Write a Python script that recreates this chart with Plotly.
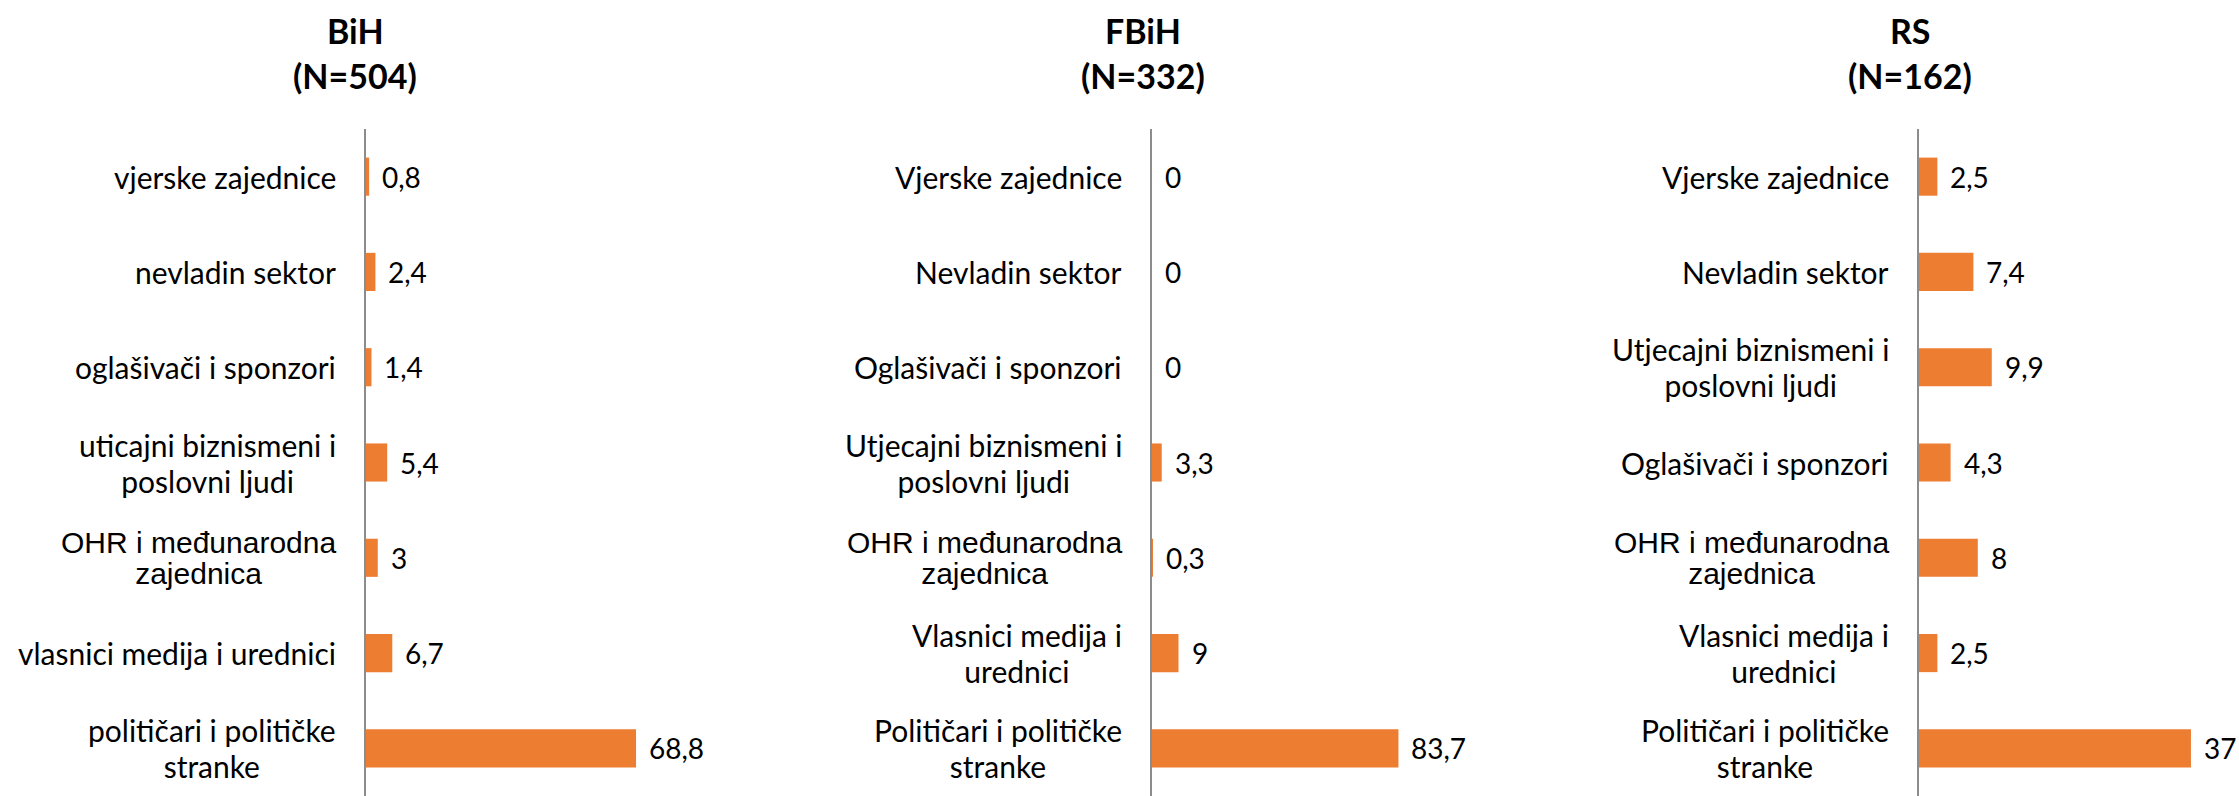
import plotly.graph_objects as go

# categories per panel, top to bottom
cats_bih = ['vjerske zajednice', 'nevladin sektor', 'oglašivači i sponzori',
            'uticajni biznismeni i<br>poslovni ljudi', 'OHR i međunarodna<br>zajednica',
            'vlasnici medija i urednici', 'političari i političke<br>stranke']
vals_bih = [0.8, 2.4, 1.4, 5.4, 3, 6.7, 68.8]

cats_fbih = ['Vjerske zajednice', 'Nevladin sektor', 'Oglašivači i sponzori',
             'Utjecajni biznismeni i<br>poslovni ljudi', 'OHR i međunarodna<br>zajednica',
             'Vlasnici medija i<br>urednici', 'Političari i političke<br>stranke']
vals_fbih = [0, 0, 0, 3.3, 0.3, 9, 83.7]

cats_rs = ['Vjerske zajednice', 'Nevladin sektor', 'Utjecajni biznismeni i<br>poslovni ljudi',
           'Oglašivači i sponzori', 'OHR i međunarodna<br>zajednica',
           'Vlasnici medija i<br>urednici', 'Političari i političke<br>stranke']
vals_rs = [2.5, 7.4, 9.9, 4.3, 8, 2.5, 37]

titles = ['BiH', 'FBiH', 'RS']
ns = ['(N=504)', '(N=332)', '(N=162)']
x_max = [80, 90, 40]

W, H = 2239, 796
ORANGE = '#ED7D31'
AXIS = '#8C8C8C'
FONT = 'Lato'

# pixel layout of each panel: axis x position and right edge
panels_px = [(366, 680), (1152, 1417), (1919, 2213)]
title_cx = [355, 1143, 1910]
plot_top = 129

fig = go.Figure()
data = [(cats_bih, vals_bih), (cats_fbih, vals_fbih), (cats_rs, vals_rs)]

for i, (cats, vals) in enumerate(data):
    n = '' if i == 0 else str(i + 1)
    fig.add_trace(go.Bar(
        x=vals, y=cats, orientation='h',
        marker=dict(color=ORANGE, line=dict(width=0)),
        xaxis='x' + n, yaxis='y' + n,
        showlegend=False, hoverinfo='x+y',
    ))
    x0, x1 = panels_px[i]
    fig.update_layout(**{
        'xaxis' + n: dict(domain=[x0 / W, x1 / W], range=[0, x_max[i]], visible=False,
                          anchor='y' + n, fixedrange=True),
        'yaxis' + n: dict(domain=[0, 1 - plot_top / H], anchor='x' + n,
                          categoryorder='array', categoryarray=cats, autorange='reversed',
                          showticklabels=False, showgrid=False, zeroline=False,
                          showline=True, linecolor=AXIS, linewidth=2, ticks=''),
    })
    # category labels (centre-aligned lines, like the original)
    for c in cats:
        if c.startswith('OHR'):
            # this one is in Arial in the original, with tight line spacing
            span = '<span style="font-size:30px">'
            txt = span + c.replace('<br>', '</span><br>' + span) + '</span>'
            font = dict(family='Liberation Sans', size=24, color='#000000')
        else:
            span = '<span style="font-size:30px">'
            txt = span + c.replace('<br>', '</span><br>' + span) + '</span>'
            font = dict(family=FONT, size=28, color='#000000')
        fig.add_annotation(
            x=0, y=c, xref='x' + n + ' domain', yref='y' + n,
            text=txt, showarrow=False, xanchor='right', align='center',
            yanchor='middle', xshift=-28, font=font,
        )
    # value labels
    for c, v in zip(cats, vals):
        fig.add_annotation(
            x=v, y=c, xref='x' + n, yref='y' + n,
            text=f'{v:g}'.replace('.', ','), showarrow=False,
            xanchor='left', yanchor='middle', xshift=11,
            font=dict(family=FONT, size=28, color='#000000'),
        )
    # panel title
    fig.add_annotation(x=title_cx[i] / W, y=1 - 31 / H, xref='paper', yref='paper',
                       text='<b>' + titles[i] + '</b>', showarrow=False,
                       xanchor='center', yanchor='middle',
                       font=dict(family=FONT, size=34, color='#000000'))
    fig.add_annotation(x=title_cx[i] / W, y=1 - 75 / H, xref='paper', yref='paper',
                       text='<b>' + ns[i] + '</b>', showarrow=False,
                       xanchor='center', yanchor='middle',
                       font=dict(family=FONT, size=34, color='#000000'))

fig.update_layout(
    width=W, height=H,
    margin=dict(l=0, r=0, t=0, b=0),
    plot_bgcolor='white', paper_bgcolor='white',
    bargap=0.6,
)

# drop the default page margin so the figure fills the window exactly
fig.write_html('out.html', config={'displayModeBar': False},
               post_script="document.body.style.margin='0';")
